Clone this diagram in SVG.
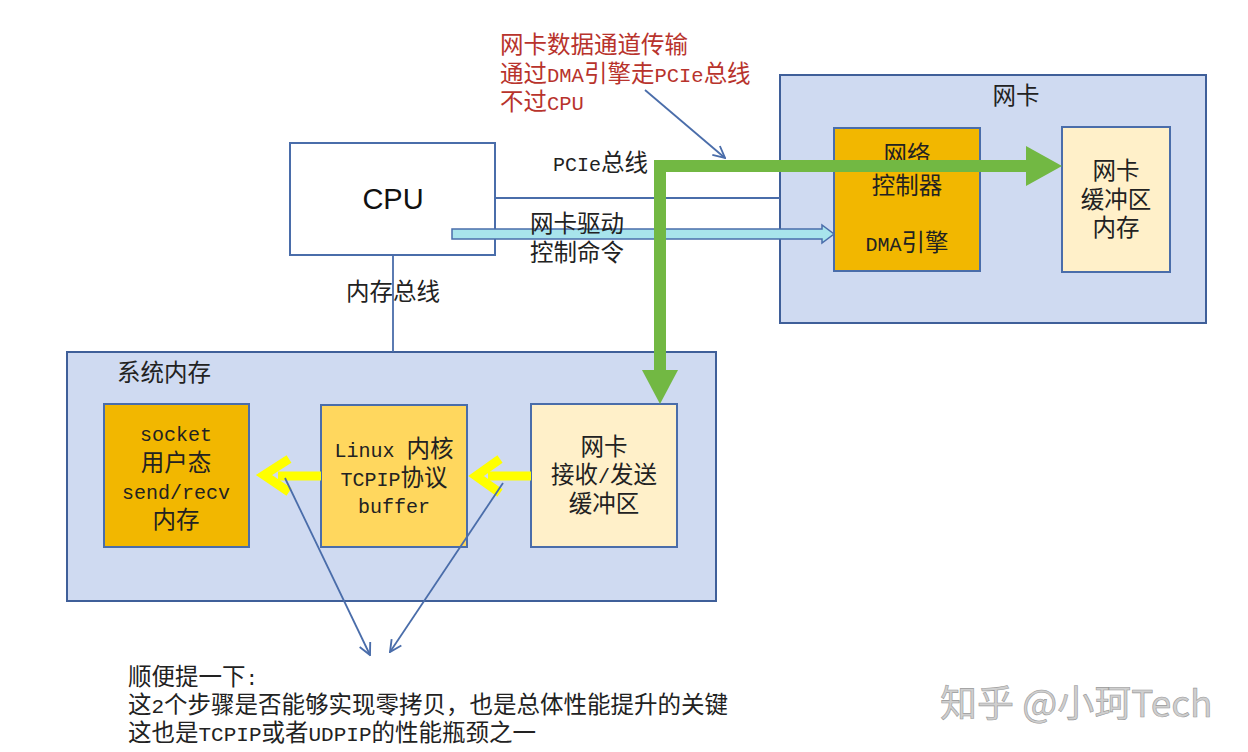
<svg xmlns="http://www.w3.org/2000/svg" width="1248" height="752" viewBox="0 0 1248 752">
<defs>
<style>
.box{stroke:#4A6DAA;stroke-width:2}
.outer{fill:#CFDAF1;stroke:#3F5F99;stroke-width:2}
.t{font-family:"Liberation Mono","Noto Sans CJK SC",monospace;font-size:20px;fill:#222}
.c{font-family:"Noto Sans CJK SC",sans-serif;font-size:23.5px}
.tc{text-anchor:middle}
.red{font-family:"Liberation Mono","Noto Sans CJK SC",monospace;font-size:20.5px;fill:#B8332C}
.b{font-family:"Liberation Mono","Noto Sans CJK SC",monospace;font-size:21px;fill:#222}
.bc{font-family:"Noto Sans CJK SC",sans-serif;font-size:23.5px}
.line{stroke:#4A6DAA;stroke-width:1.8;fill:none}
</style>
<marker id="openv" viewBox="0 0 12 12" refX="11" refY="6" markerWidth="14" markerHeight="14" markerUnits="userSpaceOnUse" orient="auto">
<path d="M1,1 L11,6 L1,11" fill="none" stroke="#4A6DAA" stroke-width="1.6"/>
</marker>
</defs>
<rect width="1248" height="752" fill="#fff"/>

<g id="nic">
<rect class="outer" x="780" y="75" width="426" height="248"/>
<text class="t tc" x="1016" y="104"><tspan class="c">网卡</tspan></text>
</g>
<g id="sysmem">
<rect class="outer" x="67" y="352" width="649" height="249"/>
<text class="t" x="117" y="381"><tspan class="c">系统内存</tspan></text>
</g>

<g id="cpu">
<rect x="290" y="143" width="205" height="112" fill="#fff" class="box"/>
<text x="393" y="209" text-anchor="middle" font-family="Liberation Sans,Arial,sans-serif" font-size="29" fill="#111">CPU</text>
</g>

<g id="controller">
<rect class="box" x="834" y="128" width="146" height="143" fill="#F2B700"/>
<text class="t tc" x="907" y="163"><tspan class="c">网络</tspan></text>
<text class="t tc" x="907" y="194"><tspan class="c">控制器</tspan></text>
<text class="t tc" x="907" y="251">DMA<tspan class="c">引擎</tspan></text>
</g>
<g id="nicbuf">
<rect class="box" x="1062" y="127" width="108" height="145" fill="#FFF0C9"/>
<text class="t tc" x="1116" y="179"><tspan class="c">网卡</tspan></text>
<text class="t tc" x="1116" y="208"><tspan class="c">缓冲区</tspan></text>
<text class="t tc" x="1116" y="236"><tspan class="c">内存</tspan></text>
</g>

<g id="socket">
<rect class="box" x="104" y="404" width="145" height="143" fill="#F2B700"/>
<text class="t tc" x="176" y="441">socket</text>
<text class="t tc" x="176" y="471"><tspan class="c">用户态</tspan></text>
<text class="t tc" x="176" y="499">send/recv</text>
<text class="t tc" x="176" y="528"><tspan class="c">内存</tspan></text>
</g>
<g id="kernel">
<rect class="box" x="321" y="405" width="146" height="142" fill="#FFD75E"/>
<text class="t tc" x="394" y="457">Linux <tspan class="c">内核</tspan></text>
<text class="t tc" x="394" y="486">TCPIP<tspan class="c">协议</tspan></text>
<text class="t tc" x="394" y="513">buffer</text>
</g>
<g id="rxtx">
<rect class="box" x="531" y="404" width="146" height="143" fill="#FFF0C9"/>
<text class="t tc" x="604" y="455"><tspan class="c">网卡</tspan></text>
<text class="t tc" x="604" y="483"><tspan class="c">接收</tspan>/<tspan class="c">发送</tspan></text>
<text class="t tc" x="604" y="512"><tspan class="c">缓冲区</tspan></text>
</g>

<g id="connectors">
<line class="line" x1="495" y1="198" x2="780" y2="198"/>
<line class="line" x1="393" y1="255" x2="393" y2="352"/>
<path d="M452,229 H822 V225 L834,234 L822,243 V239 H452 Z" fill="#A8E4EC" stroke="#4A6DAA" stroke-width="1.5"/>
<path d="M660,372 V166 H1028" fill="none" stroke="#72B843" stroke-width="12"/>
<path d="M1026,146 L1062,166 L1026,186 Z" fill="#72B843"/>
<path d="M642,370 L678,370 L660,404 Z" fill="#72B843"/>
<path d="M531,476 H488" stroke="#FFFF00" stroke-width="9" fill="none"/>
<path d="M500,459 L476,476 L500,493" stroke="#FFFF00" stroke-width="9" fill="none"/>
<path d="M321,476 H278" stroke="#FFFF00" stroke-width="9" fill="none"/>
<path d="M289,459 L264,475 L289,492" stroke="#FFFF00" stroke-width="9" fill="none"/>
<line class="line" x1="285" y1="478" x2="370" y2="655" marker-end="url(#openv)"/>
<line class="line" x1="503" y1="483" x2="390" y2="652" marker-end="url(#openv)"/>
<line class="line" x1="645" y1="90" x2="725" y2="158" marker-end="url(#openv)"/>
</g>

<g id="labels">
<text class="red" x="500" y="53"><tspan class="c">网卡数据通道传输</tspan></text>
<text class="red" x="500" y="82"><tspan class="c">通过</tspan>DMA<tspan class="c">引擎走</tspan>PCIe<tspan class="c">总线</tspan></text>
<text class="red" x="500" y="110"><tspan class="c">不过</tspan>CPU</text>
<text class="t" x="553" y="171">PCIe<tspan class="c">总线</tspan></text>
<text class="t" x="530" y="232"><tspan class="c">网卡驱动</tspan></text>
<text class="t" x="530" y="261"><tspan class="c">控制命令</tspan></text>
<text class="t" x="346" y="300"><tspan class="c">内存总线</tspan></text>
<text class="b" x="128" y="685"><tspan class="bc">顺便提一下</tspan>:</text>
<text class="b" x="128" y="713"><tspan class="bc">这</tspan>2<tspan class="bc">个步骤是否能够实现零拷贝，也是总体性能提升的关键</tspan></text>
<text class="b" x="128" y="741"><tspan class="bc">这也是</tspan>TCPIP<tspan class="bc">或者</tspan>UDPIP<tspan class="bc">的性能瓶颈之一</tspan></text>
<text x="940" y="717" font-family="Noto Sans CJK SC,sans-serif" font-size="37" fill="#cfcfcf" stroke="#9a9a9a" stroke-width="0.6">知乎 @小珂Tech</text>
</g>
</svg>
